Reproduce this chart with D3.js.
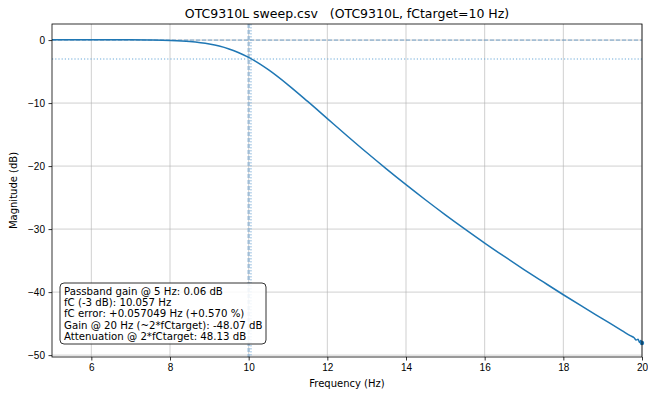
<!DOCTYPE html>
<html>
<head>
<meta charset="utf-8">
<script src="https://cdn.jsdelivr.net/npm/d3@7"></script>
<style>
  body { margin: 0; background: #fff; }
  svg { font-family: "DejaVu Sans", sans-serif; }
  .tick text { font-size: 10px; fill: #000; }
</style>
</head>
<body>
<div id="chart"></div>
<script>
// sweep data (Hz, dB)
const freqs = [5, 5.5, 6, 6.5, 7, 7.5, 8, 8.5, 9, 9.25, 9.5, 9.75, 10, 10.25, 10.5, 11, 11.5, 12, 12.5, 13, 13.5, 14, 14.5, 15, 15.5, 16, 16.5, 17, 17.5, 18, 18.5, 19, 19.5, 19.7, 19.8, 19.85, 19.9, 19.94, 19.97, 20];
const gains = [0.06, 0.06, 0.059, 0.056, 0.047, 0.02, -0.05, -0.225, -0.62, -0.95, -1.41, -2.01, -2.76, -3.66, -4.70, -7.10, -9.74, -12.46, -15.18, -17.85, -20.44, -22.95, -25.38, -27.73, -30.0, -32.21, -34.34, -36.42, -38.43, -40.42, -42.35, -44.25, -46.15, -46.9, -47.25, -47.6, -47.5, -48.0, -47.7, -48.07];

const fCtarget = 10;
const fC = 10.057;
const xTicks = [6, 8, 10, 12, 14, 16, 18, 20];
const yTicks = [0, -10, -20, -30, -40, -50];
const infoLines = [
  "Passband gain @ 5 Hz: 0.06 dB",
  "fC (-3 dB): 10.057 Hz",
  "fC error: +0.057049 Hz (+0.570 %)",
  "Gain @ 20 Hz (~2*fCtarget): -48.07 dB",
  "Attenuation @ 2*fCtarget: 48.13 dB"
];

const W = 648, H = 395;
const margin = { left: 52, right: 6, top: 24, bottom: 38 };
const iw = W - margin.left - margin.right;
const ih = H - margin.top - margin.bottom;

const svg = d3.select("#chart").append("svg")
  .attr("width", W).attr("height", H);

const x = d3.scaleLinear().domain([5, 20]).range([0, iw]);
const y = d3.scaleLinear().domain([-50.3, 2.55]).range([ih, 0]);

const g = svg.append("g").attr("transform", `translate(${margin.left},${margin.top})`);

// grid
g.append("g").selectAll("line").data(xTicks).join("line")
  .attr("x1", d => x(d)).attr("x2", d => x(d))
  .attr("y1", 0).attr("y2", ih)
  .attr("stroke", "#b0b0b0").attr("stroke-opacity", 0.75).attr("stroke-width", 0.8);
g.append("g").selectAll("line").data(yTicks).join("line")
  .attr("x1", 0).attr("x2", iw)
  .attr("y1", d => y(d)).attr("y2", d => y(d))
  .attr("stroke", "#b0b0b0").attr("stroke-opacity", 0.75).attr("stroke-width", 0.8);

// reference lines
g.append("line")
  .attr("x1", 0).attr("x2", iw).attr("y1", y(0)).attr("y2", y(0))
  .attr("stroke", "#5f95c2").attr("stroke-opacity", 0.85)
  .attr("stroke-width", 1).attr("stroke-dasharray", "4,2");
g.append("line")
  .attr("x1", 0).attr("x2", iw).attr("y1", y(-3)).attr("y2", y(-3))
  .attr("stroke", "#5a9fd4").attr("stroke-opacity", 0.9)
  .attr("stroke-width", 1.1).attr("stroke-dasharray", "1.2,2");
g.append("line")
  .attr("x1", x(fCtarget)).attr("x2", x(fCtarget)).attr("y1", 0).attr("y2", ih)
  .attr("stroke", "#8fb4d4").attr("stroke-opacity", 0.75)
  .attr("stroke-width", 2.5).attr("stroke-dasharray", "4,2");
g.append("line")
  .attr("x1", x(fC)).attr("x2", x(fC)).attr("y1", 0).attr("y2", ih)
  .attr("stroke", "#7fb0da").attr("stroke-opacity", 0.5)
  .attr("stroke-width", 2).attr("stroke-dasharray", "1.5,1.5");

// curve
const pts = freqs.map((f, i) => [f, gains[i]]);
const line = d3.line().x(d => x(d[0])).y(d => y(d[1])).curve(d3.curveMonotoneX);
g.append("path").datum(pts)
  .attr("d", line)
  .attr("fill", "none").attr("stroke", "#1f77b4").attr("stroke-width", 1.5);
g.append("circle").attr("cx", x(20)).attr("cy", y(-48.07)).attr("r", 2.2).attr("fill", "#1f77b4");

// frame
g.append("rect").attr("width", iw).attr("height", ih)
  .attr("fill", "none").attr("stroke", "#000").attr("stroke-width", 0.8);

// axes
const xAxis = g.append("g").attr("transform", `translate(0,${ih})`)
  .call(d3.axisBottom(x).tickValues(xTicks).tickSize(3.5).tickPadding(3.5).tickFormat(d3.format("d")));
const yAxis = g.append("g")
  .call(d3.axisLeft(y).tickValues(yTicks).tickSize(3.5).tickPadding(3.5).tickFormat(d => d < 0 ? "\u2212" + Math.abs(d) : d));
[xAxis, yAxis].forEach(a => {
  a.select(".domain").remove();
  a.selectAll(".tick line").attr("stroke", "#000").attr("stroke-width", 0.8);
});

// labels
svg.append("text").attr("x", margin.left + iw / 2).attr("y", H - 8)
  .attr("text-anchor", "middle").attr("font-size", 10).text("Frequency (Hz)");
svg.append("text").attr("transform", `translate(17,${margin.top + ih / 2}) rotate(-90)`)
  .attr("text-anchor", "middle").attr("font-size", 10).text("Magnitude (dB)");
svg.append("text").attr("x", margin.left + iw / 2).attr("y", 18)
  .attr("text-anchor", "middle").attr("font-size", 12.5).attr("xml:space", "preserve")
  .text("OTC9310L sweep.csv   (OTC9310L, fCtarget=10 Hz)");

// info box
const box = svg.append("g").attr("transform", "translate(60,283)");
box.append("rect").attr("width", 206).attr("height", 61).attr("rx", 4)
  .attr("fill", "#fff").attr("fill-opacity", 0.85)
  .attr("stroke", "#333").attr("stroke-width", 1);
box.selectAll("text").data(infoLines).join("text")
  .attr("x", 4).attr("y", (d, i) => 11.5 + i * 11.4)
  .attr("font-size", 10.2).text(d => d);
</script>
</body>
</html>
